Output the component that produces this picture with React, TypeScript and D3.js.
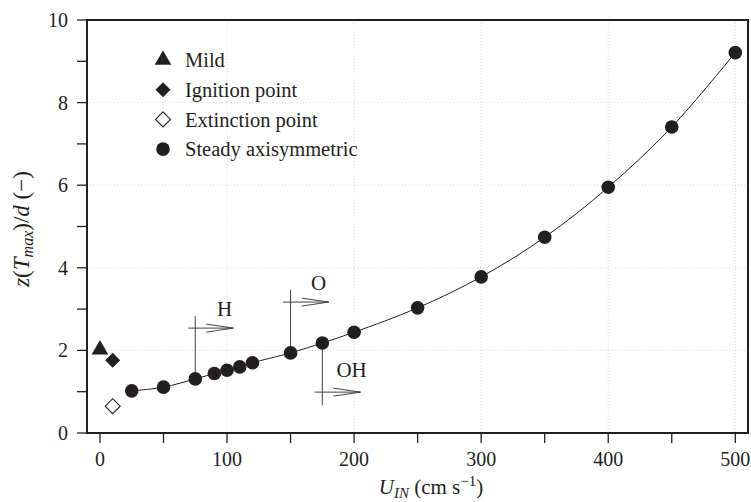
import React from "react";
import * as d3 from "d3";

const steadyU = [25, 50, 75, 90, 100, 110, 120, 150, 175, 200, 250, 300, 350, 400, 450, 500];
const steadyZ = [1.02, 1.11, 1.31, 1.44, 1.52, 1.6, 1.7, 1.94, 2.18, 2.44, 3.03, 3.78, 4.74, 5.95, 7.41, 9.21];
const mild = [{ u: 0, z: 2.02 }];
const ignition = [{ u: 10, z: 1.76 }];
const extinction = [{ u: 10, z: 0.65 }];
const xMajor = [0, 100, 200, 300, 400, 500];
const xMinor = [50, 150, 250, 350, 450];
const yMajor = [0, 2, 4, 6, 8, 10];
const yMinor = [1, 3, 5, 7, 9];
const legendItems = ["Mild", "Ignition point", "Extinction point", "Steady axisymmetric"];
// annotations: vertical from point to zTo, arrow at zArrow from a0 to a1, label at (lx, ly)
const annots = [
  { label: "H", u: 75, zFrom: 1.31, zTo: 2.83, zArrow: 2.54, a0: 69.5, a1: 105, lx: 98, ly: 3.0 },
  { label: "O", u: 150, zFrom: 1.94, zTo: 3.47, zArrow: 3.17, a0: 144, a1: 180, lx: 172, ly: 3.64 },
  { label: "OH", u: 175, zFrom: 2.18, zTo: 0.67, zArrow: 0.99, a0: 169, a1: 205, lx: 198, ly: 1.54 },
];

const W = 751, H = 502;
const L = 87, R = 748, T = 20, B = 433;

export default function App() {
  const x = d3.scaleLinear().domain([-10.2, 510]).range([L, R]);
  const y = d3.scaleLinear().domain([0, 10]).range([B, T]);
  const line = d3.line<number>().x((_, i) => x(steadyU[i])).y((d) => y(d)).curve(d3.curveCatmullRom.alpha(0.5));
  const font = "'Liberation Serif', 'Times New Roman', serif";
  const ink = "#231f20";
  const sym = (type: string, cx: number, cy: number) => {
    if (type === "tri") return <path d={d3.symbol(d3.symbolTriangle, 120)()!} transform={`translate(${cx},${cy})`} fill={ink} />;
    if (type === "dia") return <path d={`M${cx},${cy - 7.5}L${cx + 7.5},${cy}L${cx},${cy + 7.5}L${cx - 7.5},${cy}Z`} fill={ink} />;
    if (type === "odia") return <path d={`M${cx},${cy - 7.5}L${cx + 7.5},${cy}L${cx},${cy + 7.5}L${cx - 7.5},${cy}Z`} fill="#fff" stroke={ink} strokeWidth={1.1} />;
    return <circle cx={cx} cy={cy} r={6.8} fill={ink} />;
  };
  const legendTypes = ["tri", "dia", "odia", "circ"];
  return (
    <svg width={W} height={H} style={{ position: "absolute", left: 0, top: 0 }} fontFamily={font}>
      <rect width={W} height={H} fill="#fff" />
      {/* grid */}
      {xMajor.filter((v) => v > 0).map((v) => (
        <line key={"gx" + v} x1={x(v)} x2={x(v)} y1={T} y2={B} stroke="#ccc" strokeWidth={0.7} strokeDasharray="1,2" />
      ))}
      {yMajor.filter((v) => v > 0 && v < 10).map((v) => (
        <line key={"gy" + v} x1={L} x2={R} y1={y(v)} y2={y(v)} stroke="#ccc" strokeWidth={0.7} strokeDasharray="1,2" />
      ))}
      {/* annotations */}
      {annots.map((a) => {
        const ax1 = x(a.a1), ay = y(a.zArrow);
        return (
          <g key={a.label} stroke="#444" strokeWidth={1} fill="none">
            <line x1={x(a.u)} x2={x(a.u)} y1={y(a.zFrom)} y2={y(a.zTo)} />
            <line x1={x(a.a0)} x2={ax1} y1={ay} y2={ay} />
            <polyline points={`${ax1 - 27},${ay - 4} ${ax1},${ay} ${ax1 - 27},${ay + 4}`} />
            <text x={x(a.lx)} y={y(a.ly)} dy="0.35em" textAnchor="middle" fontSize={21} fill={ink} stroke="none">{a.label}</text>
          </g>
        );
      })}
      {/* line */}
      <path d={line(steadyZ)!} fill="none" stroke={ink} strokeWidth={1} />
      {steadyZ.map((z, i) => <g key={"s" + i}>{sym("circ", x(steadyU[i]), y(z))}</g>)}
      {mild.map((d, i) => <g key={"m" + i}>{sym("tri", x(d.u), y(d.z))}</g>)}
      {ignition.map((d, i) => <g key={"ig" + i}>{sym("dia", x(d.u), y(d.z))}</g>)}
      {extinction.map((d, i) => <g key={"ex" + i}>{sym("odia", x(d.u), y(d.z))}</g>)}
      {/* frame */}
      <rect x={L} y={T} width={R - L} height={B - T} fill="none" stroke={ink} strokeWidth={2} />
      {/* x ticks */}
      {xMajor.map((v) => (
        <g key={"xt" + v}>
          <line x1={x(v)} x2={x(v)} y1={B} y2={B + 10} stroke={ink} strokeWidth={1.3} />
          <text x={x(v)} y={B + 33} textAnchor="middle" fontSize={20} fill={ink}>{v}</text>
        </g>
      ))}
      {xMinor.map((v) => (
        <line key={"xm" + v} x1={x(v)} x2={x(v)} y1={B} y2={B + 10} stroke={ink} strokeWidth={1.3} />
      ))}
      {yMajor.map((v) => (
        <g key={"yt" + v}>
          <line x1={L} x2={L - 10} y1={y(v)} y2={y(v)} stroke={ink} strokeWidth={1.3} />
          <text x={L - 19} y={y(v)} dy="0.35em" textAnchor="end" fontSize={20} fill={ink}>{v}</text>
        </g>
      ))}
      {yMinor.map((v) => (
        <line key={"ym" + v} x1={L} x2={L - 10} y1={y(v)} y2={y(v)} stroke={ink} strokeWidth={1.3} />
      ))}
      {/* legend */}
      {legendItems.map((t, i) => (
        <g key={"lg" + i}>
          {sym(legendTypes[i], 163, 60 + i * 29.7)}
          <text x={185} y={60 + i * 29.7} dy="0.35em" fontSize={20.5} fill={ink}>{t}</text>
        </g>
      ))}
      {/* axis labels */}
      <text x={431} y={494} textAnchor="middle" fontSize={21} fill={ink}>
        <tspan fontStyle="italic">U</tspan>
        <tspan fontStyle="italic" fontSize={15} dy={4}>IN</tspan>
        <tspan dy={-4}> (cm s</tspan>
        <tspan fontSize={15} dy={-8}>−1</tspan>
        <tspan dy={8}>)</tspan>
      </text>
      <text transform="translate(29,229) rotate(-90)" textAnchor="middle" fontSize={23} fill={ink}>
        <tspan fontStyle="italic">z</tspan>
        <tspan>(</tspan>
        <tspan fontStyle="italic">T</tspan>
        <tspan fontStyle="italic" fontSize={16} dy={4}>max</tspan>
        <tspan dy={-4}>)/</tspan>
        <tspan fontStyle="italic">d</tspan>
        <tspan> (−)</tspan>
      </text>
    </svg>
  );
}
